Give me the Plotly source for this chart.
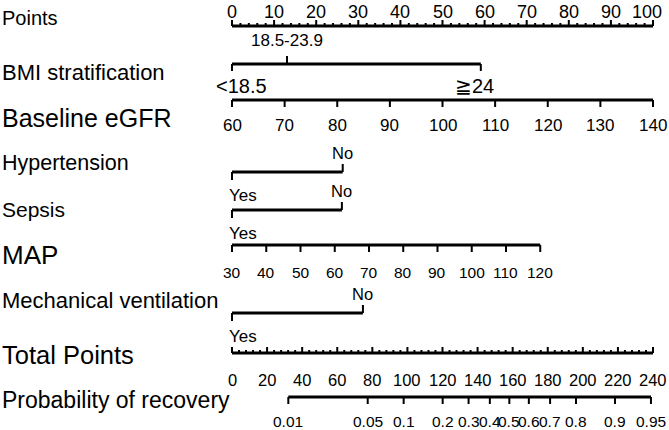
import math
import plotly.graph_objects as go

# ---------------- data ----------------
points_major = list(range(0, 101, 10))
points_minor = list(range(0, 101, 2))

bmi_levels = ["<18.5", "18.5-23.9", "≧24"]
bmi_points = [0, 13.06, 59.1]

egfr_ticks = [60, 70, 80, 90, 100, 110, 120, 130, 140]
egfr_ref, egfr_pts_per_unit = 60, 1.25

htn_levels = ["Yes", "No"]
htn_points = [0, 26.3]

sepsis_levels = ["Yes", "No"]
sepsis_points = [0, 26.1]

map_ticks = [30, 40, 50, 60, 70, 80, 90, 100, 110, 120]
map_ref, map_pts_per_unit = 30, 0.8135

mv_levels = ["Yes", "No"]
mv_points = [0, 31.1]

total_major = list(range(0, 241, 20))
total_minor = list(range(0, 241, 4))
total_to_points = 100 / 240

prob_ticks = [0.01, 0.05, 0.1, 0.2, 0.3, 0.4, 0.5, 0.6, 0.7, 0.8, 0.9, 0.95]
prob_labels = ["0.01", "0.05", "0.1", "0.2", "0.3", "0.4", "0.5", "0.6", "0.7", "0.8", "0.9", "0.95"]
prob_intercept, prob_slope = -5.766, 0.03647

row_names = ["Points", "BMI stratification", "Baseline eGFR", "Hypertension", "Sepsis",
             "MAP", "Mechanical ventilation", "Total Points", "Probability of recovery"]

# ---------------- layout constants ----------------
FONT = "Liberation Sans, Arial, Helvetica, sans-serif"
W, H = 669, 430
PX_PER_PT = 4.21
X0_PX = 232
xr = [-X0_PX / PX_PER_PT, (W - X0_PX) / PX_PER_PT]

row_label_y = [18, 72, 118, 163, 209, 255, 300, 355, 400]
row_label_size = [20, 22, 25, 21.5, 21, 26, 22, 25.5, 23]

seg_x, seg_y = [], []      # main axis lines
tk_x, tk_y = [], []        # tick marks
ann = []


def hline(x0, x1, y):
    seg_x.extend([x0, x1, None]); seg_y.extend([y, y, None])


def tick(x, y0, y1):
    tk_x.extend([x, x, None]); tk_y.extend([y0, y1, None])


def label(x, y, text, size=16, xanchor="center", xshift=0):
    ann.append(dict(x=x, y=y, text=text, xref="x", yref="y", showarrow=False,
                    xanchor=xanchor, yanchor="middle", xshift=xshift,
                    font=dict(family=FONT, size=size, color="black")))


# Points axis (ticks upward)
yl = 26
hline(0, 100, yl)
for v in points_minor:
    tick(v, yl, yl - (6 if v in points_major else 3))
for v in points_major:
    label(v, 12, str(v), 18, xshift=(-6 if v == 100 else 0))

# BMI stratification (categorical, alternating)
yl = 64
hline(min(bmi_points), max(bmi_points), yl)
tick(bmi_points[0], yl, yl + 7); label(bmi_points[0], 86, bmi_levels[0], 20, xshift=9)
tick(bmi_points[1], yl, yl - 8); label(bmi_points[1], 40, bmi_levels[1], 17)
tick(bmi_points[2], yl, yl + 7); label(bmi_points[2], 86, bmi_levels[2], 20, xshift=-6)

# Baseline eGFR
yl = 100
egfr_pts = [(v - egfr_ref) * egfr_pts_per_unit for v in egfr_ticks]
hline(egfr_pts[0], egfr_pts[-1], yl)
for p, v in zip(egfr_pts, egfr_ticks):
    tick(p, yl, yl + 7)
    label(p, 125, str(v), 17)


def binary(levels, pts, yl):
    hline(pts[0], pts[1], yl)
    tick(pts[0], yl, yl + 8)
    tick(pts[1], yl, yl - 8)
    label(pts[0], yl + 23, levels[0], 17, xshift=11)
    label(pts[1], yl - 19, levels[1], 16.5)


binary(htn_levels, htn_points, 172)
binary(sepsis_levels, sepsis_points, 210)

# MAP
yl = 245
map_pts = [(v - map_ref) * map_pts_per_unit for v in map_ticks]
hline(map_pts[0], map_pts[-1], yl)
for p, v in zip(map_pts, map_ticks):
    tick(p, yl, yl + 7)
    label(p, 272, str(v), 15.5)

binary(mv_levels, mv_points, 313)

# Total Points (ticks upward)
yl = 353
hline(0, total_major[-1] * total_to_points, yl)
for v in total_minor:
    tick(v * total_to_points, yl, yl - (6 if v in total_major else 3))
for v in total_major:
    label(v * total_to_points, 380, str(v), 16.5)

# Probability of recovery
yl = 397


def prob_to_points(p):
    return (math.log(p / (1 - p)) - prob_intercept) / prob_slope * total_to_points


prob_pts = [prob_to_points(p) for p in prob_ticks]
hline(prob_pts[0], prob_pts[-1], yl)
for p, t in zip(prob_pts, prob_labels):
    tick(p, yl, yl + 7)
    label(p, 421, t, 15.5)

# Row titles
for name, y, s in zip(row_names, row_label_y, row_label_size):
    ann.append(dict(x=0, y=y, text=name, xref="paper", yref="y", showarrow=False,
                    xanchor="left", yanchor="middle", xshift=0,
                    font=dict(family=FONT, size=s, color="black")))

fig = go.Figure()
fig.add_trace(go.Scatter(x=seg_x, y=seg_y, mode="lines",
                         line=dict(color="black", width=3), hoverinfo="skip"))
fig.add_trace(go.Scatter(x=tk_x, y=tk_y, mode="lines",
                         line=dict(color="black", width=2), hoverinfo="skip"))
fig.update_layout(
    width=W, height=H, margin=dict(l=0, r=0, t=0, b=0),
    paper_bgcolor="white", plot_bgcolor="white", showlegend=False,
    xaxis=dict(range=xr, visible=False, fixedrange=True),
    yaxis=dict(range=[H, 0], visible=False, fixedrange=True),
    annotations=ann,
)
fig.write_html("out.html", config={"displayModeBar": False},
               post_script="document.body.style.margin='0';document.body.style.overflow='hidden';")
